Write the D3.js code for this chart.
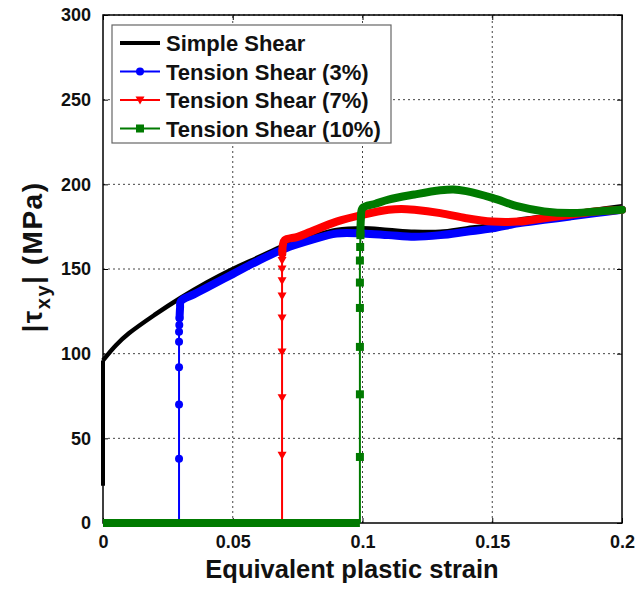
<!DOCTYPE html>
<html>
<head>
<meta charset="utf-8">
<script src="https://cdn.jsdelivr.net/npm/d3@7"></script>
<style>
  body { margin: 0; background: #fff; }
  text { font-family: "Liberation Sans", Arial, sans-serif; font-weight: bold; }
</style>
</head>
<body>
<div id="wrap"></div>
<script>
// ticks
var xTicks = [0, 0.05, 0.1, 0.15, 0.2],
    yTicks = [0, 50, 100, 150, 200, 250, 300];

// simple shear
var simpleStrain = [0, 0, 0.005, 0.01, 0.02, 0.03, 0.04, 0.05, 0.06, 0.07, 0.08, 0.09, 0.1, 0.11, 0.12, 0.13, 0.14, 0.15, 0.16, 0.17, 0.18, 0.19, 0.2],
    simpleStress = [22, 96, 105, 112, 123, 133, 142, 150, 157, 164, 169, 173, 174, 173, 172, 172, 174, 176, 179, 181, 183, 185, 187];

// tension shear 3% : rise (with markers) and flow part
var ts3RiseStrain = [0, 0.0293, 0.0293, 0.0293, 0.0293, 0.0293, 0.0293, 0.0294, 0.0295],
    ts3RiseStress = [0, 0, 38, 70, 92, 107, 113, 117, 121],
    ts3FlowStrain = [0.0295, 0.0297, 0.03, 0.035, 0.04, 0.05, 0.06, 0.07, 0.08, 0.09, 0.1, 0.11, 0.12, 0.13, 0.14, 0.15, 0.16, 0.17, 0.18, 0.19, 0.2],
    ts3FlowStress = [121, 127, 131, 135, 139, 147, 155, 162, 167, 171, 171, 170, 169, 170, 172, 174, 177, 179, 181, 183, 185];

// tension shear 7%
var ts7RiseStrain = [0, 0.069, 0.069, 0.069, 0.069, 0.069, 0.069, 0.069, 0.069, 0.069, 0.0691],
    ts7RiseStress = [0, 0, 40, 74, 101, 121, 134, 143, 150, 155, 159],
    ts7FlowStrain = [0.0691, 0.0693, 0.07, 0.075, 0.08, 0.09, 0.1, 0.11, 0.115, 0.12, 0.13, 0.14, 0.15, 0.16, 0.17, 0.18, 0.19, 0.2],
    ts7FlowStress = [159, 164, 167, 169, 172, 178, 182, 185, 185.5, 185, 183, 180, 178, 178, 180, 182, 184, 185];

// tension shear 10%
var ts10RiseStrain = [0, 0.099, 0.099, 0.099, 0.099, 0.099, 0.099, 0.099, 0.0991, 0.0992],
    ts10RiseStress = [0, 0, 39, 76, 104, 127, 142, 155, 163, 170],
    ts10FlowStrain = [0.0992, 0.0994, 0.1, 0.105, 0.11, 0.12, 0.13, 0.135, 0.14, 0.15, 0.16, 0.17, 0.18, 0.19, 0.2],
    ts10FlowStress = [170, 180, 186, 188.5, 191, 194, 196.5, 197, 196, 192, 187, 184, 183, 184, 185];

var legendLabels = ["Simple Shear", "Tension Shear (3%)", "Tension Shear (7%)", "Tension Shear (10%)"];

var width = 638, height = 591,
    margin = {top: 15, right: 16, bottom: 68, left: 103};

var svg = d3.select('#wrap').append('svg')
  .attr('width', width)
  .attr('height', height);

var x = d3.scaleLinear().domain([0, 0.2]).range([margin.left, width - margin.right]),
    y = d3.scaleLinear().domain([0, 300]).range([height - margin.bottom, margin.top]);

function zip(xs, ys) { return xs.map(function(v, i) { return [v, ys[i]]; }); }
var line = d3.line().x(function(d) { return x(d[0]); }).y(function(d) { return y(d[1]); }),
    smooth = d3.line().curve(d3.curveCatmullRom.alpha(0.5)).x(function(d) { return x(d[0]); }).y(function(d) { return y(d[1]); });

// grid
var grid = svg.append('g').attr('stroke', '#444').attr('stroke-width', 1).attr('stroke-dasharray', '2,3');
grid.selectAll('.gx').data(xTicks.slice(1, -1)).enter().append('line')
  .attr('x1', function(d) { return x(d); }).attr('x2', function(d) { return x(d); })
  .attr('y1', y(0)).attr('y2', y(300));
grid.selectAll('.gy').data(yTicks.slice(1)).enter().append('line')
  .attr('x1', x(0)).attr('x2', x(0.2))
  .attr('y1', function(d) { return y(d); }).attr('y2', function(d) { return y(d); });

// axes
svg.append('g').attr('transform', 'translate(0,' + y(0) + ')')
  .call(d3.axisBottom(x).tickValues(xTicks).tickSize(-5).tickPadding(12).tickFormat(function(d) { return d === 0 ? '0' : String(d); }))
  .call(function(g) { g.select('.domain').remove(); g.selectAll('text').attr('font-size', 18).attr('fill', '#111'); });
svg.append('g').attr('transform', 'translate(' + x(0) + ',0)')
  .call(d3.axisLeft(y).tickValues(yTicks).tickSize(-5).tickPadding(12))
  .call(function(g) { g.select('.domain').remove(); g.selectAll('text').attr('font-size', 18).attr('fill', '#111'); });
svg.append('g').attr('transform', 'translate(0,' + y(300) + ')')
  .call(d3.axisTop(x).tickValues(xTicks).tickSize(-5).tickFormat(''))
  .call(function(g) { g.select('.domain').remove(); });
svg.append('g').attr('transform', 'translate(' + x(0.2) + ',0)')
  .call(d3.axisRight(y).tickValues(yTicks).tickSize(-5).tickFormat(''))
  .call(function(g) { g.select('.domain').remove(); });

svg.append('rect')
  .attr('x', x(0)).attr('y', y(300))
  .attr('width', x(0.2) - x(0)).attr('height', y(0) - y(300))
  .attr('fill', 'none').attr('stroke', '#000').attr('stroke-width', 1.5);

// series
var series = [
  {color: '#000', rise: zip(simpleStrain, simpleStress), flow: null, marker: null},
  {color: '#0000ff', rise: zip(ts3RiseStrain, ts3RiseStress), flow: zip(ts3FlowStrain, ts3FlowStress), marker: 'circle'},
  {color: '#ff0000', rise: zip(ts7RiseStrain, ts7RiseStress), flow: zip(ts7FlowStrain, ts7FlowStress), marker: 'tri'},
  {color: '#007a00', rise: zip(ts10RiseStrain, ts10RiseStress), flow: zip(ts10FlowStrain, ts10FlowStress), marker: 'square'}
];

function drawMarker(g, type, color, cx, cy) {
  if (type === 'circle') {
    g.append('circle').attr('cx', cx).attr('cy', cy).attr('r', 4).attr('fill', color);
  } else if (type === 'tri') {
    g.append('path').attr('d', 'M' + (cx - 4.5) + ',' + (cy - 3.5) + 'L' + (cx + 4.5) + ',' + (cy - 3.5) + 'L' + cx + ',' + (cy + 4.5) + 'Z').attr('fill', color);
  } else if (type === 'square') {
    g.append('rect').attr('x', cx - 4).attr('y', cy - 4).attr('width', 8).attr('height', 8).attr('fill', color);
  }
}

series.forEach(function(s, i) {
  var g = svg.append('g');
  if (!s.marker) {
    g.append('path').attr('d', line(s.rise.slice(0, 2))).attr('fill', 'none')
      .attr('stroke', s.color).attr('stroke-width', 4);
    g.append('path').attr('d', smooth(s.rise.slice(1))).attr('fill', 'none')
      .attr('stroke', s.color).attr('stroke-width', 4.5).attr('stroke-linejoin', 'round');
    return;
  }
  // zero segment
  var zero = s.rise.slice(0, 2);
  g.append('path').attr('d', line(zero)).attr('fill', 'none')
    .attr('stroke', s.color).attr('stroke-width', s.marker === 'square' ? 8 : 2);
  g.append('path').attr('d', line(s.rise.slice(1))).attr('fill', 'none')
    .attr('stroke', s.color).attr('stroke-width', 2);
  g.append('path').attr('d', smooth(s.flow)).attr('fill', 'none')
    .attr('stroke', s.color).attr('stroke-width', 8).attr('stroke-linejoin', 'round').attr('stroke-linecap', 'round');
  s.rise.slice(2).forEach(function(d) { drawMarker(g, s.marker, s.color, x(d[0]), y(d[1])); });
});

// legend
var lg = svg.append('g');
lg.append('rect').attr('x', 112).attr('y', 25).attr('width', 279).attr('height', 118)
  .attr('fill', '#fff').attr('stroke', '#666').attr('stroke-width', 1.2);
legendLabels.forEach(function(lab, i) {
  var ly = 43 + i * 28.5;
  lg.append('line').attr('x1', 120).attr('x2', 160).attr('y1', ly).attr('y2', ly)
    .attr('stroke', series[i].color).attr('stroke-width', i === 0 ? 4 : 2);
  drawMarker(lg, series[i].marker, series[i].color, 140, ly);
  lg.append('text').attr('x', 166).attr('y', ly + 8).attr('font-size', 22).attr('fill', '#111').text(lab);
});

// axis titles
svg.append('text').attr('x', 352).attr('y', 578)
  .attr('text-anchor', 'middle').attr('font-size', 25.5).attr('fill', '#111')
  .text('Equivalent plastic strain');

var yl = svg.append('text').attr('transform', 'translate(42,' + 257 + ') rotate(-90)')
  .attr('text-anchor', 'middle').attr('font-size', 28).attr('letter-spacing', 1.5).attr('fill', '#111');
yl.append('tspan').text('|\u03c4');
yl.append('tspan').attr('font-size', 20).attr('dy', 8).text('xy');
yl.append('tspan').attr('dy', -8).text('| (MPa)');
</script>
</body>
</html>
